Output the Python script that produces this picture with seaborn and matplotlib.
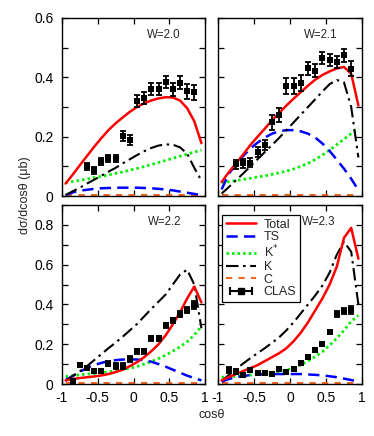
import numpy as np
import pandas as pd
import matplotlib
matplotlib.use("Agg")
import matplotlib.pyplot as plt
from matplotlib.lines import Line2D
from matplotlib.legend_handler import HandlerLine2D, HandlerTuple
from matplotlib.ticker import MultipleLocator, FuncFormatter
import seaborn as sns

# ---------------- data ----------------
x_curve = [-0.95, -0.85, -0.75, -0.65, -0.55, -0.45, -0.35, -0.25, -0.15, -0.05,
           0.05, 0.15, 0.25, 0.35, 0.45, 0.55, 0.65, 0.75, 0.85, 0.95]

panels = ["W=2.0", "W=2.1", "W=2.2", "W=2.3"]

# W = 2.0
total_20 = [0.042, 0.072, 0.104, 0.135, 0.166, 0.195, 0.222, 0.245, 0.265, 0.284,
            0.300, 0.313, 0.322, 0.329, 0.333, 0.332, 0.322, 0.296, 0.252, 0.178]
ts_20 = [0.003, 0.012, 0.018, 0.021, 0.024, 0.026, 0.027, 0.028, 0.028, 0.028,
         0.028, 0.027, 0.026, 0.024, 0.022, 0.019, 0.015, 0.011, 0.007, 0.003]
kstar_20 = [0.045, 0.049, 0.053, 0.057, 0.062, 0.066, 0.071, 0.076, 0.081, 0.087,
            0.093, 0.099, 0.106, 0.113, 0.120, 0.127, 0.134, 0.141, 0.148, 0.155]
k_20 = [0.003, 0.016, 0.028, 0.042, 0.055, 0.068, 0.082, 0.095, 0.110, 0.124,
        0.138, 0.151, 0.162, 0.170, 0.174, 0.173, 0.164, 0.143, 0.095, 0.052]
c_20 = [0.003] * 20
clas_x_20 = [-0.65, -0.55, -0.45, -0.35, -0.25, -0.15, -0.05, 0.05, 0.15, 0.25,
             0.35, 0.45, 0.55, 0.65, 0.75, 0.85]
clas_y_20 = [0.100, 0.087, 0.116, 0.127, 0.126, 0.201, 0.190, 0.320, 0.329, 0.361,
             0.362, 0.384, 0.360, 0.381, 0.353, 0.350]
clas_e_20 = [0.012, 0.012, 0.012, 0.012, 0.012, 0.017, 0.017, 0.020, 0.020, 0.020,
             0.020, 0.020, 0.022, 0.022, 0.025, 0.025]

# W = 2.1
total_21 = [0.047, 0.080, 0.110, 0.140, 0.172, 0.200, 0.227, 0.255, 0.280, 0.305,
            0.328, 0.350, 0.372, 0.392, 0.408, 0.420, 0.430, 0.435, 0.412, 0.305]
ts_21 = [0.022, 0.075, 0.107, 0.135, 0.160, 0.180, 0.197, 0.210, 0.218, 0.222,
         0.222, 0.218, 0.210, 0.197, 0.177, 0.152, 0.122, 0.092, 0.058, 0.020]
kstar_21 = [0.045, 0.048, 0.052, 0.056, 0.060, 0.064, 0.068, 0.073, 0.078, 0.084,
            0.091, 0.100, 0.110, 0.123, 0.138, 0.155, 0.173, 0.192, 0.210, 0.228]
k_21 = [0.008, 0.030, 0.053, 0.076, 0.100, 0.124, 0.148, 0.172, 0.196, 0.222,
        0.248, 0.274, 0.300, 0.326, 0.352, 0.377, 0.391, 0.383, 0.300, 0.130]
c_21 = [0.003] * 20
clas_x_21 = [-0.75, -0.65, -0.55, -0.45, -0.35, -0.25, -0.15, -0.05, 0.05, 0.15,
             0.25, 0.35, 0.45, 0.55, 0.65, 0.75, 0.85]
clas_y_21 = [0.107, 0.111, 0.112, 0.149, 0.173, 0.249, 0.273, 0.372, 0.371, 0.380,
             0.430, 0.423, 0.465, 0.458, 0.453, 0.475, 0.429]
clas_e_21 = [0.015, 0.015, 0.015, 0.017, 0.017, 0.025, 0.025, 0.027, 0.027, 0.027,
             0.022, 0.022, 0.020, 0.020, 0.020, 0.022, 0.025]

# W = 2.2
total_22 = [0.018, 0.025, 0.030, 0.034, 0.038, 0.043, 0.050, 0.060, 0.072, 0.090,
            0.110, 0.135, 0.165, 0.200, 0.245, 0.300, 0.360, 0.430, 0.490, 0.410]
ts_22 = [0.020, 0.040, 0.062, 0.080, 0.095, 0.106, 0.115, 0.120, 0.123, 0.124,
         0.123, 0.120, 0.112, 0.100, 0.087, 0.072, 0.057, 0.042, 0.030, 0.018]
kstar_22 = [0.037, 0.042, 0.046, 0.050, 0.053, 0.057, 0.061, 0.066, 0.072, 0.079,
            0.088, 0.100, 0.113, 0.128, 0.145, 0.165, 0.187, 0.212, 0.247, 0.290]
k_22 = [0.015, 0.040, 0.064, 0.090, 0.120, 0.150, 0.180, 0.208, 0.238, 0.270,
        0.302, 0.340, 0.378, 0.414, 0.450, 0.500, 0.550, 0.575, 0.500, 0.280]
c_22 = [0.003] * 20
clas_x_22 = [-0.85, -0.75, -0.65, -0.55, -0.45, -0.35, -0.25, -0.15, -0.05, 0.05,
             0.15, 0.25, 0.35, 0.45, 0.55, 0.65, 0.75, 0.85]
clas_y_22 = [0.017, 0.095, 0.081, 0.064, 0.064, 0.103, 0.091, 0.091, 0.128, 0.165,
             0.165, 0.229, 0.229, 0.296, 0.320, 0.353, 0.371, 0.395]
clas_e_22 = [0.010, 0.010, 0.010, 0.010, 0.010, 0.015, 0.015, 0.015, 0.015, 0.012,
             0.012, 0.012, 0.012, 0.012, 0.012, 0.015, 0.015, 0.020]

# W = 2.3
total_23 = [0.018, 0.035, 0.050, 0.065, 0.080, 0.095, 0.115, 0.135, 0.155, 0.180,
            0.215, 0.258, 0.310, 0.370, 0.430, 0.500, 0.590, 0.735, 0.785, 0.630]
ts_23 = [0.012, 0.025, 0.035, 0.040, 0.045, 0.047, 0.049, 0.050, 0.050, 0.050,
         0.050, 0.050, 0.048, 0.046, 0.043, 0.039, 0.034, 0.027, 0.020, 0.012]
kstar_23 = [0.034, 0.036, 0.038, 0.041, 0.045, 0.048, 0.052, 0.057, 0.063, 0.070,
            0.080, 0.096, 0.115, 0.138, 0.162, 0.195, 0.230, 0.270, 0.315, 0.345]
k_23 = [0.015, 0.045, 0.075, 0.103, 0.130, 0.155, 0.180, 0.207, 0.235, 0.270,
        0.310, 0.355, 0.400, 0.445, 0.495, 0.560, 0.650, 0.715, 0.665, 0.400]
c_23 = [0.003] * 20
clas_x_23 = [-0.85, -0.75, -0.65, -0.55, -0.45, -0.35, -0.25, -0.15, -0.05, 0.05,
             0.15, 0.25, 0.35, 0.45, 0.55, 0.65, 0.75, 0.85]
clas_y_23 = [0.070, 0.062, 0.043, 0.068, 0.054, 0.055, 0.050, 0.074, 0.060, 0.074,
             0.107, 0.137, 0.171, 0.202, 0.261, 0.353, 0.368, 0.372]
clas_e_23 = [0.015, 0.012, 0.010, 0.010, 0.010, 0.010, 0.010, 0.010, 0.010, 0.010,
             0.010, 0.010, 0.010, 0.010, 0.012, 0.015, 0.015, 0.018]

curves = {
    "W=2.0": dict(Total=total_20, TS=ts_20, Kstar=kstar_20, K=k_20, C=c_20),
    "W=2.1": dict(Total=total_21, TS=ts_21, Kstar=kstar_21, K=k_21, C=c_21),
    "W=2.2": dict(Total=total_22, TS=ts_22, Kstar=kstar_22, K=k_22, C=c_22),
    "W=2.3": dict(Total=total_23, TS=ts_23, Kstar=kstar_23, K=k_23, C=c_23),
}
clas = {
    "W=2.0": (clas_x_20, clas_y_20, clas_e_20),
    "W=2.1": (clas_x_21, clas_y_21, clas_e_21),
    "W=2.2": (clas_x_22, clas_y_22, clas_e_22),
    "W=2.3": (clas_x_23, clas_y_23, clas_e_23),
}

# ---------------- style ----------------
sns.set_theme(style="ticks")
plt.rcParams["font.family"] = ["Liberation Sans", "DejaVu Sans"]
plt.rcParams["axes.unicode_minus"] = False
plt.rcParams["axes.linewidth"] = 1.0

styles = {
    "Total": dict(color="#ff0000", lw=1.8, ls="-"),
    "TS": dict(color="#0000ff", lw=1.8, ls=(0, (4.5, 2.5))),
    "Kstar": dict(color="#00ee00", lw=2.0, ls=(0, (0.9, 1.1))),
    "K": dict(color="#000000", lw=1.5, ls=(0, (6, 2.2, 1.2, 2.2))),
    "C": dict(color="#f26522", lw=1.5, ls=(0, (3, 3))),
}
order = ["C", "Kstar", "TS", "K", "Total"]

fig = plt.figure(figsize=(3.74, 4.36), dpi=100)
W, H = 374, 436
boxes = {
    "W=2.0": (62, 18, 205, 196),
    "W=2.1": (218, 18, 362, 196),
    "W=2.2": (62, 205, 205, 384),
    "W=2.3": (218, 205, 362, 384),
}
label_pos = {"W=2.0": 0.715, "W=2.1": 0.715, "W=2.2": 0.72, "W=2.3": 0.70}

fmt = FuncFormatter(lambda v, p: ("%g" % round(v, 2)))

axes = {}
for name in panels:
    x0, y0, x1, y1 = boxes[name]
    ax = fig.add_axes([x0 / W, 1 - y1 / H, (x1 - x0) / W, (y1 - y0) / H])
    axes[name] = ax
    for key in order:
        st = styles[key]
        sns.lineplot(x=x_curve, y=curves[name][key], ax=ax, color=st["color"],
                     linewidth=st["lw"], linestyle=st["ls"], estimator=None,
                     sort=False, legend=False)
    cx, cy, ce = clas[name]
    ax.errorbar(cx, cy, yerr=ce, fmt="none", ecolor="black", elinewidth=1.3,
                capsize=2.0, capthick=1.3, zorder=5)
    sns.scatterplot(x=cx, y=cy, ax=ax, marker="s", color="black", s=22,
                    edgecolor="black", linewidth=0, zorder=6, legend=False)
    ax.set_xlim(-1, 1)
    top = name in ("W=2.0", "W=2.1")
    ax.set_ylim(0, 0.6 if top else 0.9)
    ax.xaxis.set_major_locator(MultipleLocator(0.5))
    ax.yaxis.set_major_locator(MultipleLocator(0.2))
    ax.yaxis.set_minor_locator(MultipleLocator(0.1))
    ax.xaxis.set_major_formatter(fmt)
    ax.yaxis.set_major_formatter(fmt)
    ax.tick_params(which="both", direction="in", top=True, right=True,
                   length=4, width=0.9, labelsize=10, colors="black")
    ax.tick_params(axis="y", pad=6)
    ax.tick_params(axis="x", pad=5)
    if top:
        ax.tick_params(labelbottom=False)
    if name in ("W=2.1", "W=2.3"):
        ax.tick_params(labelleft=False)
    ax.set_xlabel("")
    ax.set_ylabel("")
    for sp in ax.spines.values():
        sp.set_visible(True)
        sp.set_color("black")
    ax.text(label_pos[name], 0.905, name, transform=ax.transAxes, ha="center",
            va="center", fontsize=8.3)

# legend
ax = axes["W=2.3"]
h_total = Line2D([], [], color=styles["Total"]["color"], lw=1.8, ls="-")
h_ts = Line2D([], [], color=styles["TS"]["color"], lw=1.8, ls=styles["TS"]["ls"])
h_ks = Line2D([], [], color=styles["Kstar"]["color"], lw=2.0, ls=styles["Kstar"]["ls"])
h_k = Line2D([], [], color="black", lw=1.5, ls=styles["K"]["ls"])
h_c = Line2D([], [], color=styles["C"]["color"], lw=1.5, ls=styles["C"]["ls"])
cap_line = Line2D([], [], color="black", lw=1.5, marker="|", ms=6, mew=1.5)
sq = Line2D([], [], color="black", ls="none", marker="s", ms=4.5)
leg = ax.legend([h_total, h_ts, h_ks, h_k, h_c, (cap_line, sq)],
                ["Total", "TS", "K$^{*}$", "K", "C", "CLAS"],
                handler_map={cap_line: HandlerLine2D(numpoints=2),
                             sq: HandlerLine2D(numpoints=1),
                             tuple: HandlerTuple(ndivide=1)},
                loc="upper left", bbox_to_anchor=(0.03, 0.945), borderaxespad=0,
                fontsize=9, frameon=True, fancybox=False, edgecolor="black",
                framealpha=1, handlelength=2.4, handletextpad=0.6,
                labelspacing=0.05, borderpad=0.3)
leg.get_frame().set_linewidth(0.9)

fig.text(0.067, 0.553, "dσ/dcosθ (μb)", rotation=90, ha="center", va="center",
         fontsize=9)
fig.text(0.567, 0.048, "cosθ", ha="center", va="center", fontsize=9)

fig.savefig("out.png", dpi=100)
